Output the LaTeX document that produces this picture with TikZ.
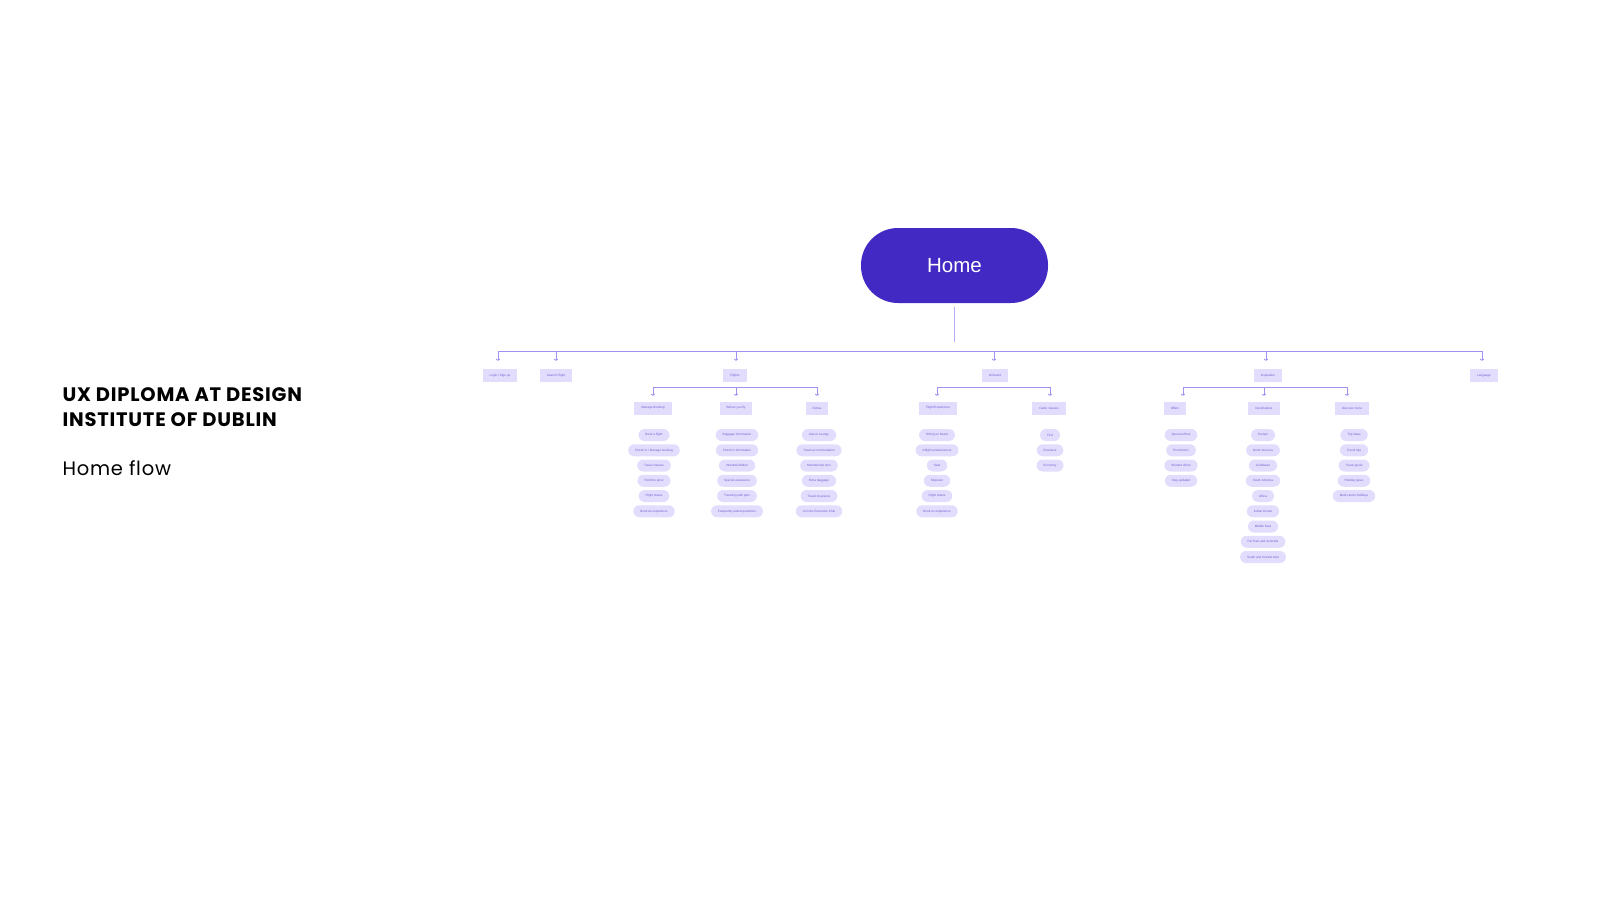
\documentclass[tikz,border=0pt]{standalone}
\usepackage{fontspec}
\setmainfont{Liberation Sans}
\newfontfamily\titlefont{Poppins}[LetterSpace=4]
\usetikzlibrary{arrows.meta,positioning}
\definecolor{homeblue}{HTML}{4329C3}
\definecolor{boxfill}{HTML}{E2DDFC}
\definecolor{boxtext}{HTML}{6E60D2}
\definecolor{linkcol}{HTML}{A092F0}
\def\itemtop{435}   % first item row
\def\itemgap{15.25} % item spacing

\begin{document}
\begin{tikzpicture}[x=1pt, y=-1pt,
    nodes = {font=\fontsize{3.1}{3.7}\selectfont, text=boxtext},
    page/.style = {fill=boxfill, minimum height=13, inner xsep=7pt, inner ysep=0pt},
    item/.style = {fill=boxfill, rounded corners=6pt, minimum height=12, inner xsep=7pt, inner ysep=0pt},
    link/.style = {draw=linkcol, line width=0.9pt},
    tip/.style = {link, -{To[length=2pt,width=4pt]}}]
  \useasboundingbox (0,0) rectangle (1600,900);

  % Titles
  \node[anchor=base west, text=black, font=\titlefont\bfseries\fontsize{19.5}{23}\selectfont]
    (title1) at (59,401) {UX DIPLOMA AT DESIGN};
  \node[anchor=base west, text=black, font=\titlefont\bfseries\fontsize{19.5}{23}\selectfont]
    (title2) at (59,426) {INSTITUTE OF DUBLIN};
  \node[anchor=base west, text=black, font=\titlefont\fontsize{19.5}{23}\selectfont]
    (flow) at (59,475) {Home flow};

  % Home
  \node[fill=homeblue, rounded corners=37pt, minimum width=187, minimum height=75,
    text=white, font=\fontsize{20.5}{24}\selectfont] (home) at (954.5,265.5) {Home};
  \draw[link, draw=linkcol!75, line width=0.6pt] ([yshift=-4pt]home.south) -- ++(0,35);

  % First level
  \foreach \name/\x/\tx/\label in {
      login/500/498/{Login / Sign up},
      search/556/556/Search Flight,
      flights/735/736/Flights,
      onboard/995/994/Onboard,
      inspire/1268/1266/Inspiration,
      language/1484/1482/Language
    } {
      \node[page] (\name) at (\x,375.5) {\label};
      \coordinate (\name-tap) at (\tx,351);
      \draw[tip, shorten >=8pt] (\name-tap) -- (\name-tap |- \name.north);
    };
  \draw[link] (login-tap) -- (language-tap);

  % Second level
  \foreach \name/\x/\tx/\label in {
      manage/653/653/Manage Booking,
      before/736/736/Before you fly,
      extras/817/817/Extras,
      flightexp/938/937/Flight Experience,
      cabin/1049/1050/Cabin classes,
      offers/1175/1183/Offers,
      dest/1264/1264/Destinations,
      discover/1352/1347/Discover more
    } {
      \node[page] (\name) at (\x,408) {\label};
      \coordinate (\name-tap) at (\tx,387);
      \draw[tip, shorten >=5.5pt] (\name-tap) -- (\name-tap |- \name.north);
    };
  \draw[link] (manage-tap) -- (extras-tap);
  \draw[link] (flightexp-tap) -- (cabin-tap);
  \draw[link] (offers-tap) -- (discover-tap);

  % Items
  \foreach \col/\x/\list in {
      manage/654/{Book a flight, Check in / Manage booking, Travel classes, Hold the price, Flight status, Book an experience},
      before/737/{Baggage information, Check in information, Infants\&children, Special assistance, Traveling with pets, Frequently asked questions},
      extras/819/{Airport Lounge, Travel accommodation, Membership tiers, Extra baggage, Travel insurance, Join the Executive Club},
      flightexp/937/{Dining on board, Inflight entertainment, Seat, Stopover, Flight status, Book an experience},
      cabin/1050/{First, Business, Economy},
      offers/1181/{Special offers, Promotions, Student offers, Stay updated},
      dest/1263/{Europe, North America, Caribbean, South America, Africa, Indian Ocean, Middle East, Far East and Australia, South and Central Asia},
      discover/1354/{Trip ideas, Travel tips, Travel guide, Holiday types, Multi-centre holidays},
    } {
      \ifx\col\empty\else                   % skip the empty last entry
        \foreach \label [count=\i from 0] in \list {
          \node[item] (\col-\i) at (\x,{\itemtop+\i*\itemgap}) {\label};
        }
      \fi
    };
\end{tikzpicture}
\end{document}
